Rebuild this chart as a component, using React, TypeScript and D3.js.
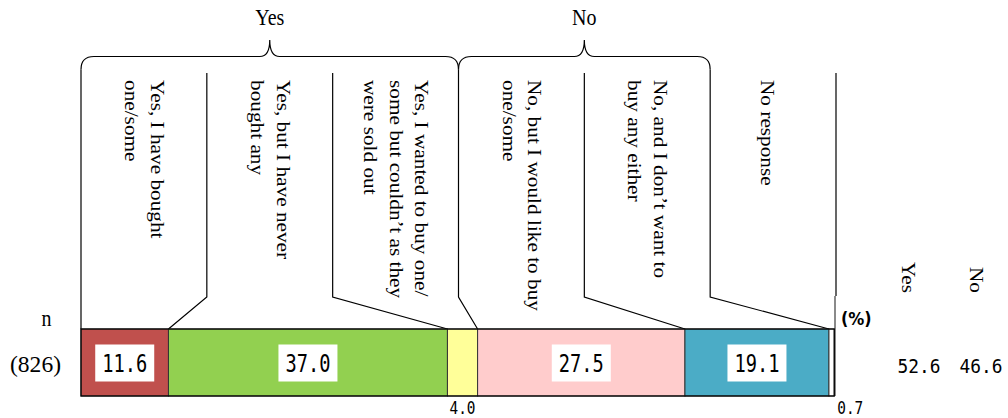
import React from "react";
import * as d3 from "d3";

// ---- data ----
const categories: string[][] = [
  ["Yes, I have bought", "one/some"],
  ["Yes, but I have never", "bought any"],
  ["Yes, I wanted to buy one/", "some but couldn\u2019t as they", "were sold out"],
  ["No, but I would like to buy", "one/some"],
  ["No, and I don\u2019t want to", "buy any either"],
  ["No response"],
];
const values: number[] = [11.6, 37.0, 4.0, 27.5, 19.1, 0.7];
const colors: string[] = ["#C0504D", "#92D050", "#FFFF99", "#FFCCCC", "#4BACC6", "#FFFFFF"];
const groupNames: string[] = ["Yes", "No"];
const groupStart: number[] = [0, 3];
const groupEnd: number[] = [3, 5];
const summaryLabels: string[] = ["Yes", "No"];
const summaryValues: number[] = [52.6, 46.6];
const sampleSize = 826;

// ---- layout ----
const W = 1008;
const H = 418;
const barLeft = 81;
const barRight = 835;
const barTop = 329;
const barBottom = 396;
const colLeft = 81;
const colRight = 836;
const calloutTop = 73;
const calloutBend = 297;
const braceY = 56.5;
const braceTip = 40;
const braceR = 13;
const textTop = 80;
const lineGap = 25.7;
const stretch = 1.12;
const serif = "'Liberation Serif', 'Times New Roman', serif";
const mono = "'DejaVu Sans Mono', monospace";
const summaryX = [919, 981];
const summaryHeadX = [901.5, 970];

export default function App() {
  const x = d3.scaleLinear().domain([0, 100]).range([barLeft, barRight]);
  const col = d3.scaleLinear().domain([0, categories.length]).range([colLeft, colRight]);
  const cum = d3.cumsum(values);
  const starts = values.map((v, i) => cum[i] - v);

  const bracePath = (x0: number, x1: number) => {
    const c = (x0 + x1) / 2;
    const p = d3.path();
    p.moveTo(x0, braceY + braceR);
    p.quadraticCurveTo(x0, braceY, x0 + braceR, braceY);
    p.lineTo(c - 10, braceY);
    p.quadraticCurveTo(c, braceY, c, braceTip);
    p.quadraticCurveTo(c, braceY, c + 10, braceY);
    p.lineTo(x1 - braceR, braceY);
    p.quadraticCurveTo(x1, braceY, x1, braceY + braceR);
    return p.toString();
  };

  const groupEdges = new Set<number>();
  groupStart.forEach((s, i) => {
    groupEdges.add(s);
    groupEdges.add(groupEnd[i]);
  });

  const line = d3.line<[number, number]>();

  return (
    <div style={{ position: "absolute", left: 0, top: 0 }}>
      <svg width={W} height={H} style={{ display: "block", background: "#fff" }}>
        {/* group headings and braces */}
        {groupNames.map((g, i) => {
          const x0 = col(groupStart[i]);
          const x1 = col(groupEnd[i]);
          return (
            <g key={g}>
              <path d={bracePath(x0, x1)} fill="none" stroke="#000" strokeWidth={1.2} />
              <text
                transform={`translate(${(x0 + x1) / 2},25) scale(1,${stretch})`}
                textAnchor="middle"
                fontFamily={serif}
                fontSize={20}
              >
                {g}
              </text>
            </g>
          );
        })}

        {/* left edge of first column */}
        <path
          d={line([[col(0), braceY + braceR], [x(0), barTop]]) || ""}
          fill="none"
          stroke="#000"
          strokeWidth={1.2}
        />

        {/* callout boundaries */}
        {categories.map((_, i) => {
          const k = i + 1;
          const cx = col(k);
          const y0 = groupEdges.has(k) ? braceY + braceR : calloutTop;
          if (k === categories.length) {
            return (
              <g key={k}>
                <path d={line([[cx, y0], [cx, calloutBend - 1]]) || ""} stroke="#000" strokeWidth={1.2} fill="none" />
                <path d={line([[x(100), calloutBend - 1], [x(100), barBottom]]) || ""} stroke="#8a8a8a" strokeWidth={2} fill="none" />
              </g>
            );
          }
          return (
            <path
              key={k}
              d={line([[cx, y0], [cx, calloutBend], [x(cum[i]), barTop]]) || ""}
              fill="none"
              stroke="#000"
              strokeWidth={1.2}
            />
          );
        })}

        {/* rotated category labels */}
        {categories.map((lines, i) => {
          const center = (col(i) + col(i + 1)) / 2;
          const n = lines.length;
          const shift = n === 1 ? -12 : -6;
          return (
            <g key={i}>
              {lines.map((t, j) => {
                const bx = center + ((n - 1) / 2 - j) * lineGap + shift;
                return (
                  <text
                    key={j}
                    transform={`translate(${bx},${textTop}) scale(1,${stretch}) rotate(90)`}
                    fontFamily={serif}
                    fontSize={19}
                  >
                    {t}
                  </text>
                );
              })}
            </g>
          );
        })}

        {/* bar segments */}
        {values.map((v, i) => (
          <rect
            key={i}
            x={x(starts[i])}
            y={barTop}
            width={x(cum[i]) - x(starts[i])}
            height={barBottom - barTop}
            fill={colors[i]}
            stroke="#333"
            strokeWidth={1}
          />
        ))}
        <rect
          x={x(0)}
          y={barTop}
          width={x(cum[cum.length - 1]) - x(0)}
          height={barBottom - barTop}
          fill="none"
          stroke="#000"
          strokeWidth={1.2}
        />

        {/* value labels */}
        {values.map((v, i) => {
          const cx = (x(starts[i]) + x(cum[i])) / 2;
          const cy = (barTop + barBottom) / 2;
          if (v >= 10) {
            return (
              <g key={i}>
                <rect x={cx - 29.5} y={cy - 18} width={59} height={37} fill="#fff" />
                <text
                  transform={`translate(${cx},${cy + 9.5}) scale(1,${stretch})`}
                  textAnchor="middle"
                  fontFamily={mono}
                  fontSize={22}
                  textLength={45}
                  lengthAdjust="spacingAndGlyphs"
                >
                  {v.toFixed(1)}
                </text>
              </g>
            );
          }
          const last = i === values.length - 1;
          const tx = last ? x(cum[i]) + 3 : cx;
          return (
            <text
              key={i}
              transform={`translate(${tx},414) scale(1,${stretch})`}
              textAnchor={last ? "start" : "middle"}
              fontFamily={mono}
              fontSize={16}
              textLength={26}
              lengthAdjust="spacingAndGlyphs"
            >
              {v.toFixed(1)}
            </text>
          );
        })}

        {/* n and sample size */}
        <text transform={`translate(46.5,326) scale(1,${stretch})`} textAnchor="middle" fontFamily={serif} fontSize={20}>
          n
        </text>
        <text
          transform={`translate(35.5,372) scale(1,${stretch})`}
          textAnchor="middle"
          fontFamily={serif}
          fontSize={20}
          textLength={51}
          lengthAdjust="spacingAndGlyphs"
        >
          {`(${sampleSize})`}
        </text>

        {/* percent unit */}
        <text
          transform={`translate(841,325) scale(1,${stretch})`}
          fontFamily="'DejaVu Sans', sans-serif"
          fontWeight="bold"
          fontSize={16}
        >
          (%)
        </text>

        {/* summary columns */}
        {summaryLabels.map((s, i) => (
          <g key={s}>
            <text
              transform={`translate(${summaryHeadX[i]},293) scale(1,${stretch}) rotate(90)`}
              textAnchor="end"
              fontFamily={serif}
              fontSize={19}
            >
              {s}
            </text>
            <text
              transform={`translate(${summaryX[i]},372.7) scale(1,${stretch})`}
              textAnchor="middle"
              fontFamily={mono}
              fontSize={18}
              textLength={43}
              lengthAdjust="spacingAndGlyphs"
            >
              {summaryValues[i].toFixed(1)}
            </text>
          </g>
        ))}
      </svg>
    </div>
  );
}
